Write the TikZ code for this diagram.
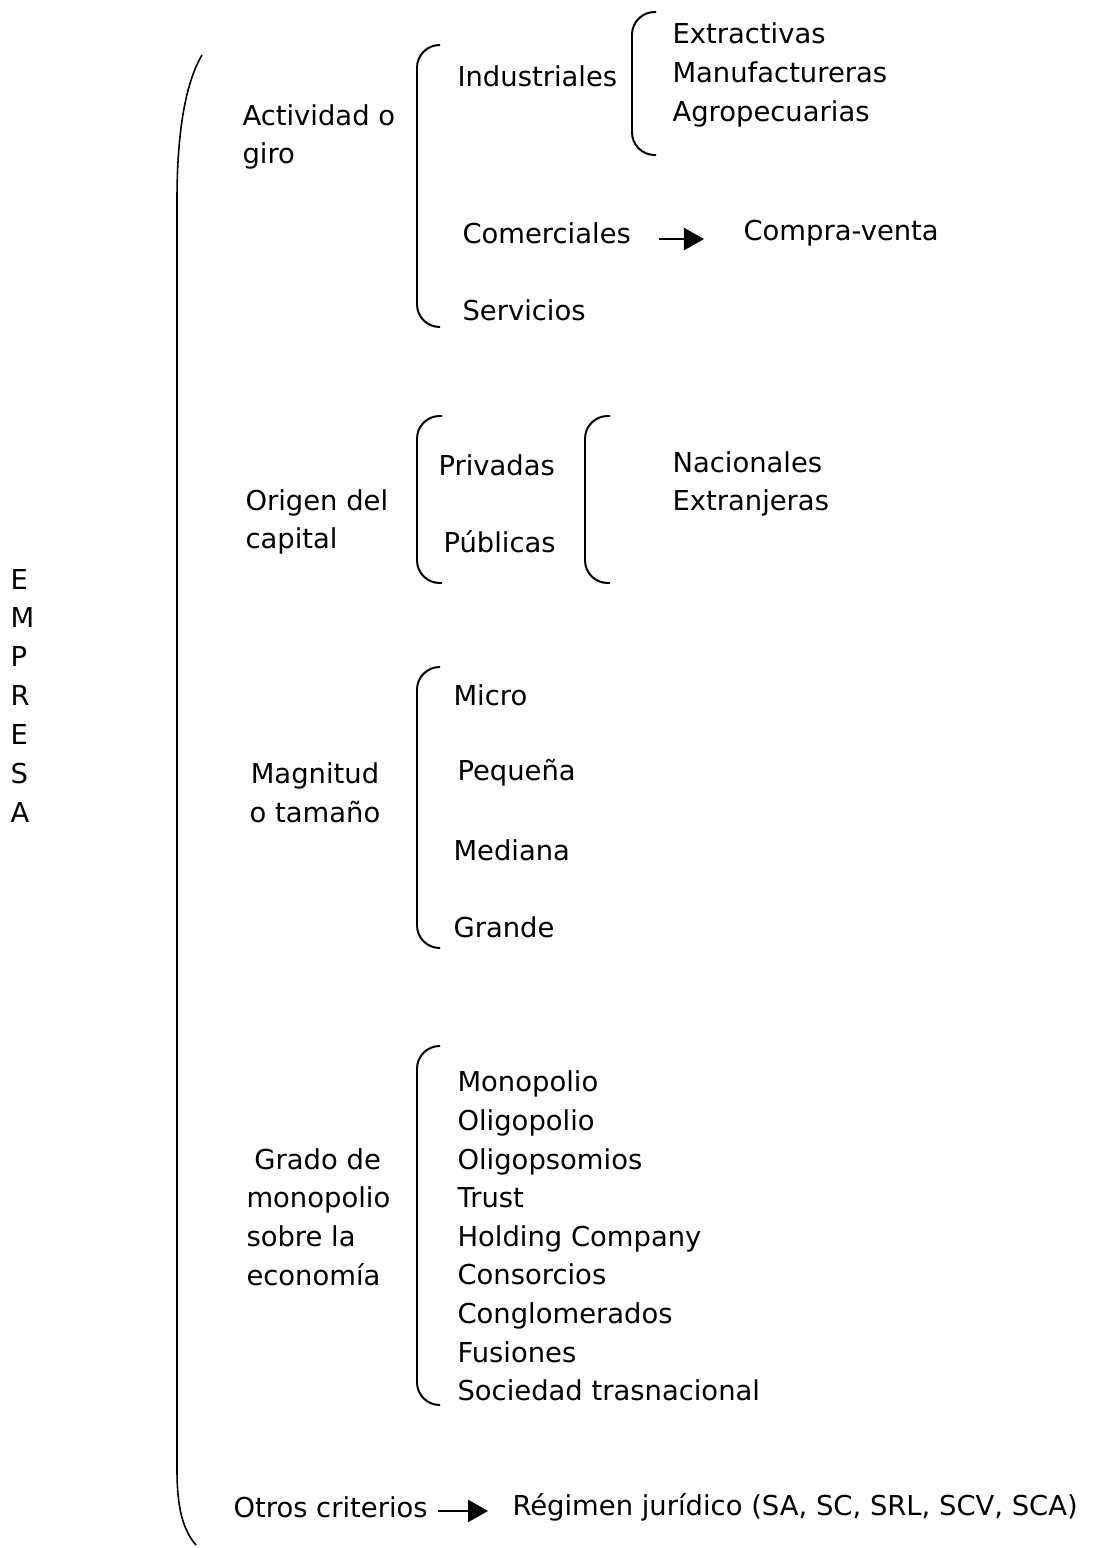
\documentclass[tikz,border=0pt]{standalone}
\usepackage{fontspec}
\setmainfont{DejaVu Sans}
\usetikzlibrary{arrows.meta}

\begin{document}
\begin{tikzpicture}[x = 0.3795pt, y = -0.3795pt, font = \fontsize{10.4pt}{14.65pt}\selectfont]
\tikzstyle{Texto}=[anchor = west, inner sep = 0pt, align = left]
\tikzstyle{Llave}=[line width = 0.75pt, rounded corners = 8.6pt]
\tikzstyle{Flecha}=[line width = 0.75pt, -{Triangle[length = 7.6pt, width = 8.4pt]}]
\useasboundingbox (0,0) rectangle (1106,1548);
\node[Texto, font = \fontsize{10.4pt}{14.8pt}\selectfont] (empresa) at (10,696) {E\\M\\P\\R\\E\\S\\A};
\draw[line width = 0.6pt] (202,55) .. controls (186,82) and (177,130) .. (177,200) -- (177,1470) .. controls (177,1508) and (183,1530) .. (196,1545);
\node[Texto] (actividad) at (242,137) {Actividad o\\giro};
\draw[Llave] (440,45) -- (417,45) -- (417,327) -- (440,327);
\node[Texto] (industriales) at (457,76) {Industriales};
\draw[Llave] (656,12) -- (632,12) -- (632,155) -- (656,155);
\node[Texto] (extractivas) at (672,75) {Extractivas\\Manufactureras\\Agropecuarias};
\node[Texto] (comerciales) at (462,233) {Comerciales};
\node[Texto] (compraventa) at (743,233) {Compra-venta};
\draw[Flecha, shorten <= 10.6pt, shorten >= 14.8pt] ([yshift = -2.3pt]comerciales.east) -- ([yshift = -2.3pt]compraventa.west);
\node[Texto] (servicios) at (462,310) {Servicios};
\node[Texto] (origen) at (245,522) {Origen del\\capital};
\draw[Llave] (442,416) -- (417,416) -- (417,583) -- (442,583);
\node[Texto] (privadas) at (438,465) {Privadas};
\node[Texto] (publicas) at (443,542) {Públicas};
\draw[Llave] (610,416) -- (585,416) -- (585,583) -- (610,583);
\node[Texto] (nacionales) at (672,484) {Nacionales\\Extranjeras};
\node[inner sep = 0pt, align = center] (magnitud) at (315,793) {Magnitud\\o tamaño};
\draw[Llave] (440,667) -- (417,667) -- (417,948) -- (440,948);
\node[Texto] (micro) at (453,695) {Micro};
\node[Texto] (pequena) at (457,773) {Pequeña};
\node[Texto] (mediana) at (453,850) {Mediana};
\node[Texto] (grande) at (453,927) {Grande};
\node[Texto] (grado) at (246,1217) {\hspace*{3pt}Grado de\\monopolio\\sobre la\\economía};
\draw[Llave] (440,1046) -- (417,1046) -- (417,1405) -- (440,1405);
\node[Texto] (monopolio) at (457,1236) {Monopolio\\Oligopolio\\Oligopsomios\\Trust\\Holding Company\\Consorcios\\Conglomerados\\Fusiones\\Sociedad trasnacional};
\node[Texto] (otros) at (233,1507) {Otros criterios};
\node[Texto] (regimen) at (512,1507) {Régimen jurídico (SA, SC, SRL, SCV, SCA)};
\draw[Flecha, shorten <= 3.8pt, shorten >= 9.1pt] ([yshift = -1.5pt]otros.east) -- ([yshift = -1.5pt]regimen.west);
\end{tikzpicture}
\end{document}
